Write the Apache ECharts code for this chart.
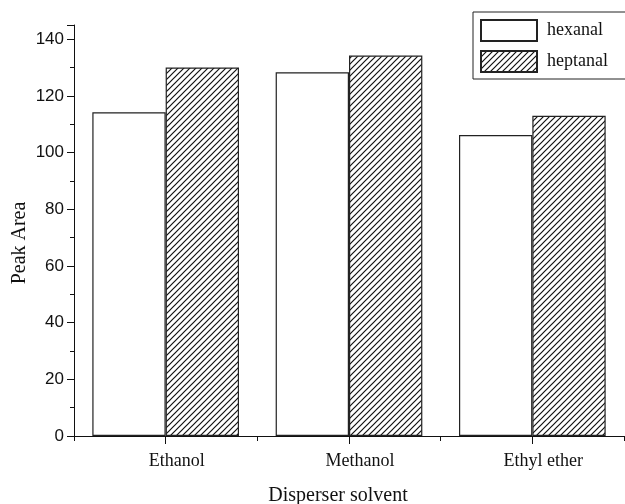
<!DOCTYPE html>
<html>
<head>
<meta charset="utf-8">
<script src="https://cdn.jsdelivr.net/npm/echarts@6/dist/echarts.min.js"></script>
<style>
html,body{margin:0;padding:0;background:#fff;}
#c{width:625px;height:504px;}
</style>
</head>
<body>
<div id="c"></div>
<script>
const categories = ['Ethanol', 'Methanol', 'Ethyl ether'];
const hexanal = [114.2, 128.3, 106.2];
const heptanal = [130.0, 134.2, 113.0];
const yTicks = [0, 20, 40, 60, 80, 100, 120, 140];

function hatch() {
  const s = 6;
  const c = document.createElement('canvas');
  c.width = s; c.height = s;
  const g = c.getContext('2d');
  g.fillStyle = '#fff';
  g.fillRect(0, 0, s, s);
  g.strokeStyle = '#111';
  g.lineWidth = 1.2;
  g.beginPath();
  g.moveTo(-1, s + 1); g.lineTo(s + 1, -1);
  g.moveTo(-1, 1); g.lineTo(1, -1);
  g.moveTo(s - 1, s + 1); g.lineTo(s + 1, s - 1);
  g.stroke();
  return c;
}

const chart = echarts.init(document.getElementById('c'), null, {renderer: 'canvas'});
const serif = '"Liberation Serif", "Times New Roman", serif';
const sans = '"Liberation Sans", Arial, sans-serif';

chart.setOption({
  animation: false,
  backgroundColor: '#fff',
  grid: {left: 74, right: 1, top: 25, bottom: 68},
  legend: {
    orient: 'vertical',
    left: 473, top: 12,
    padding: [7, 22, 6, 7],
    borderColor: '#222', borderWidth: 1,
    itemWidth: 56, itemHeight: 21, itemGap: 8,
    icon: 'rect',
    textStyle: {fontFamily: serif, fontSize: 18, color: '#111', padding: [0, 0, 0, 5]},
    data: ['hexanal', 'heptanal']
  },
  xAxis: [{
    type: 'category',
    data: categories,
    axisLine: {show: true, lineStyle: {color: '#111', width: 1}},
    axisTick: {show: true, alignWithLabel: true, length: 8, lineStyle: {color: '#111', width: 1}},
    axisLabel: {show: true, fontFamily: serif, fontSize: 18, color: '#111', margin: 16, padding: [0, 0, 0, 22]}
  }, {
    type: 'category',
    data: categories,
    position: 'bottom',
    offset: 0,
    axisLine: {show: false},
    axisTick: {show: true, length: 5, lineStyle: {color: '#111', width: 1}},
    axisLabel: {show: false}
  }],
  yAxis: {
    type: 'value',
    min: 0, max: 145, interval: 20,
    axisLine: {show: true, lineStyle: {color: '#111', width: 1}},
    axisTick: {show: true, length: 7, lineStyle: {color: '#111'}},
    minorTick: {show: true, splitNumber: 2, length: 4, lineStyle: {color: '#111'}},
    splitLine: {show: false},
    axisLabel: {fontFamily: sans, fontSize: 17, color: '#111', margin: 10,
      formatter: v => yTicks.indexOf(v) >= 0 ? String(v) : ''}
  },
  graphic: [{
    type: 'text', x: 20, y: 243, rotation: Math.PI / 2,
    style: {text: 'Peak Area', font: '20px ' + serif, fill: '#111', align: 'center', verticalAlign: 'middle'}
  }, {
    type: 'text', x: 338, y: 496,
    style: {text: 'Disperser solvent', font: '20px ' + serif, fill: '#111', align: 'center', verticalAlign: 'middle'}
  }],
  series: [{
    name: 'hexanal', type: 'bar', data: hexanal,
    barWidth: '40%', barGap: '0%',
    itemStyle: {color: '#fff', borderColor: '#222', borderWidth: 1.2}
  }, {
    name: 'heptanal', type: 'bar', data: heptanal,
    barWidth: '40%', barGap: '0%',
    itemStyle: {color: {image: hatch(), repeat: 'repeat'}, borderColor: '#222', borderWidth: 1.2}
  }]
});
</script>
</body>
</html>
